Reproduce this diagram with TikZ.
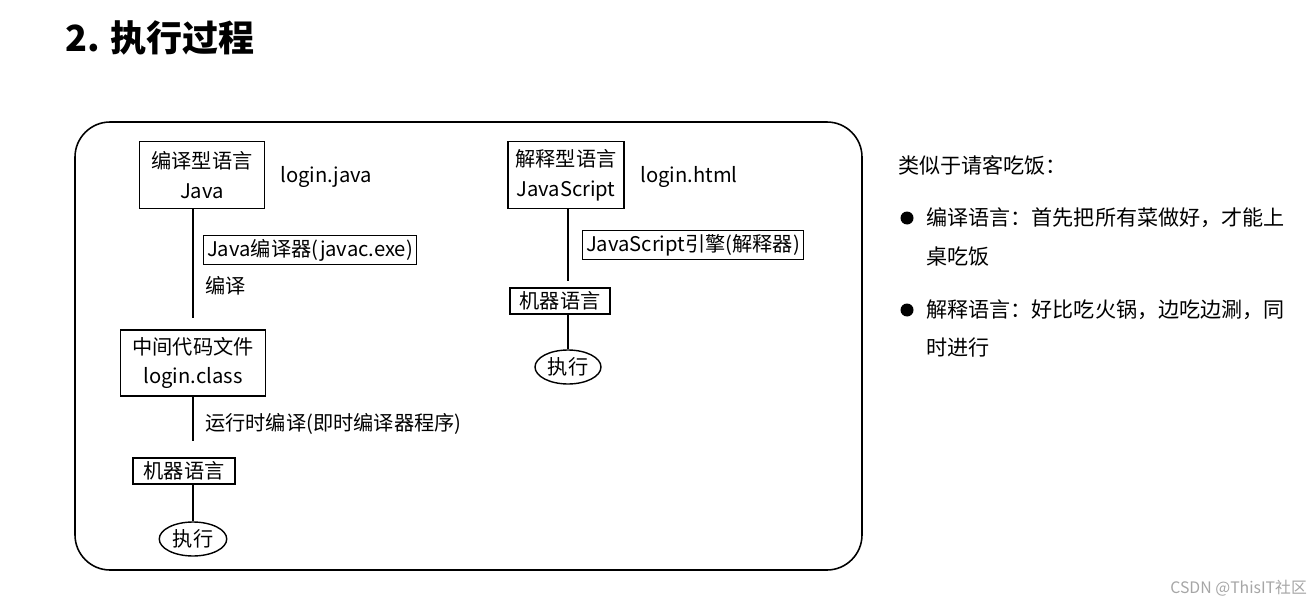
\documentclass[tikz,border=0pt]{standalone}
\usepackage{fontspec}
\setmainfont{Noto Sans CJK SC}
\usetikzlibrary{shapes.geometric}
\begin{document}
\begin{tikzpicture}[x=0.02cm,y=-0.02cm,
  bx/.style={draw,line width=0.8pt,inner sep=3pt,align=center,font=\fontsize{11.5}{17}\selectfont},
  tx/.style={inner sep=0pt,anchor=west,font=\fontsize{11.5}{17}\selectfont},
  rt/.style={inner sep=0pt,anchor=west,font=\fontsize{12}{17}\selectfont},
  ov/.style={draw,ellipse,line width=0.8pt,inner sep=1pt,minimum width=1.35cm,minimum height=0.68cm,font=\fontsize{11.5}{14}\selectfont},
  ln/.style={line width=0.8pt}]
\useasboundingbox (0,0) rectangle (1315,608);
\fill[white] (0,0) rectangle (1315,608);
\node[anchor=west,inner sep=0pt,font=\fontsize{20.5}{22}\selectfont\bfseries] (title) at (65,38) {2. 执行过程};
\draw[line width=0.9pt,rounded corners=20] (75,122) rectangle (862,570);
% left column
\node[bx,minimum width=2.5cm,minimum height=1.34cm] (a1) at (202,175) {编译型语言\\Java};
\node[tx] (a1t) at (280,177) {login.java};
\node[bx,inner sep=2pt] (c1) at (310,250) {Java编译器(javac.exe)};
\node[tx] (e1) at (205,286) {编译};
\node[bx,minimum width=2.9cm,minimum height=1.32cm] (a2) at (193,363) {中间代码文件\\login.class};
\node[tx] (r1) at (205,424) {运行时编译(即时编译器程序)};
\node[bx,inner sep=2pt,minimum width=2.04cm] (m1) at (184,471) {机器语言};
\node[ov] (x1) at (193,539) {执行};
\draw[ln] (a1.south -| 193,0) -- (193,318);
\draw[ln] (a2.south -| 193,0) -- (193,441);
\draw[ln] (m1.south -| 193,0) -- (x1.north);
% right column
\node[bx,minimum width=2.32cm,minimum height=1.34cm] (b1) at (566,175) {解释型语言\\JavaScript};
\node[tx] (b1t) at (640,177) {login.html};
\node[bx,inner sep=2pt] (c2) at (693,245) {JavaScript引擎(解释器)};
\node[bx,inner sep=2pt,minimum width=2cm] (m2) at (560,301) {机器语言};
\node[ov,minimum width=1.32cm] (x2) at (568,367) {执行};
\draw[ln] (b1.south -| 568,0) -- (568,281);
\draw[ln] (m2.south -| 568,0) -- (x2.north);
% right text
\node[rt] (s0) at (898,165) {类似于请客吃饭：};
\fill (907,218) circle (6.5);
\fill (907,310) circle (6.5);
\node[rt] (s1) at (926,218) {编译语言：首先把所有菜做好，才能上};
\node[rt] (s2) at (926,257) {桌吃饭};
\node[rt] (s3) at (926,310) {解释语言：好比吃火锅，边吃边涮，同};
\node[rt] (s4) at (926,348) {时进行};
\node[tx,text=black!35,font=\fontsize{9}{11}\selectfont] (wm) at (1170,588) {CSDN @ThisIT社区};
\end{tikzpicture}
\end{document}
